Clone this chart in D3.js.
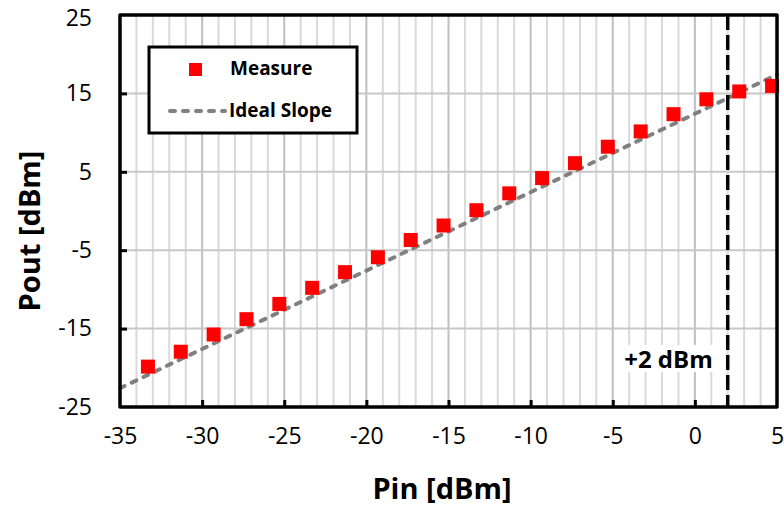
<!DOCTYPE html>
<html>
<head>
<meta charset="utf-8">
<script src="https://cdn.jsdelivr.net/npm/d3@7"></script>
<style>
  body { margin: 0; background: #fff; }
  text { font-family: "Open Sans", Lato, sans-serif; fill: #000; }
</style>
</head>
<body>
<div id="chart"></div>
<script>
// measured data
var pin = [-33.3, -31.3, -29.3, -27.3, -25.3, -23.3, -21.3, -19.3, -17.3, -15.3,
           -13.3, -11.3, -9.3, -7.3, -5.3, -3.3, -1.3, 0.7, 2.7, 4.7];
var pout = [-19.85, -17.95, -15.75, -13.8, -11.85, -9.8, -7.8, -5.9, -3.7, -1.85,
            0.1, 2.25, 4.2, 6.1, 8.2, 10.15, 12.35, 14.25, 15.25, 15.95];

// ideal slope line (1 dB/dB)
var idealX = [-35, 5];
var idealY = [-22.6, 17.4];

var xTicks = [-35, -30, -25, -20, -15, -10, -5, 0, 5];
var yTicks = [-25, -15, -5, 5, 15, 25];
var markerX = 2;
var markerLabel = "+2 dBm";

var W = 784, H = 507;
var margin = { top: 15, right: 7, bottom: 100, left: 120 },
  width = W - margin.left - margin.right,
  height = H - margin.top - margin.bottom;

var svg = d3.select("#chart").append("svg")
  .attr("width", W).attr("height", H);
var g = svg.append("g")
  .attr("transform", "translate(" + margin.left + "," + margin.top + ")");

var x = d3.scaleLinear().domain([-35, 5]).range([0, width]);
var y = d3.scaleLinear().domain([-25, 25]).range([height, 0]);

// minor vertical grid (every 1 dB)
g.append("g").selectAll("line")
  .data(d3.range(-34, 5).filter(d => d % 5 != 0))
  .enter().append("line")
  .attr("x1", d => x(d)).attr("x2", d => x(d))
  .attr("y1", 0).attr("y2", height)
  .attr("stroke", "#d9d9d9").attr("stroke-width", 2);

// major vertical grid
g.append("g").selectAll("line")
  .data(xTicks.slice(1, -1))
  .enter().append("line")
  .attr("x1", d => x(d)).attr("x2", d => x(d))
  .attr("y1", 0).attr("y2", height)
  .attr("stroke", "#bfbfbf").attr("stroke-width", 2);

// horizontal grid
g.append("g").selectAll("line")
  .data(yTicks.slice(1, -1))
  .enter().append("line")
  .attr("x1", 0).attr("x2", width)
  .attr("y1", d => y(d)).attr("y2", d => y(d))
  .attr("stroke", "#c8c8c8").attr("stroke-width", 2);

// +2 dBm label with white box
var lbl = g.append("text")
  .attr("x", x(markerX) - 15).attr("y", y(-19.2))
  .attr("text-anchor", "end")
  .attr("dominant-baseline", "middle")
  .style("font-weight", "bold").style("font-size", "24px")
  .text(markerLabel);
var bb = lbl.node().getBBox();
g.insert("rect", "text")
  .attr("x", bb.x - 2).attr("y", bb.y + 3)
  .attr("width", bb.width + 4).attr("height", bb.height - 6)
  .attr("fill", "#fff");

// ideal slope
var line = d3.line().x(d => x(d[0])).y(d => y(d[1]));
g.append("path")
  .datum(d3.zip(idealX, idealY))
  .attr("d", line)
  .attr("fill", "none")
  .attr("stroke", "#808080").attr("stroke-width", 4)
  .attr("stroke-dasharray", "5,8").attr("stroke-linecap", "round");

// vertical marker line at +2 dBm
g.append("line")
  .attr("x1", x(markerX)).attr("x2", x(markerX))
  .attr("y1", 0).attr("y2", height)
  .attr("stroke", "#000").attr("stroke-width", 3.5)
  .attr("stroke-dasharray", "15,5");

// measured points
var ms = 14;
g.append("g").selectAll("rect")
  .data(d3.zip(pin, pout))
  .enter().append("rect")
  .attr("x", d => x(d[0]) - ms / 2)
  .attr("y", d => y(d[1]) - ms / 2)
  .attr("width", ms).attr("height", ms)
  .attr("fill", "#ff0000");

// frame
g.append("rect")
  .attr("x", 0).attr("y", 0).attr("width", width).attr("height", height)
  .attr("fill", "none").attr("stroke", "#000").attr("stroke-width", 3.5)
  .attr("stroke-linejoin", "round");

// axes with inward ticks, plain hyphen minus
var fmt = d => String(d);
var xAxis = g.append("g")
  .attr("transform", "translate(0," + height + ")")
  .call(d3.axisBottom(x).tickValues(xTicks).tickFormat(fmt)
    .tickSizeInner(-7).tickSizeOuter(0).tickPadding(21));
var yAxis = g.append("g")
  .call(d3.axisLeft(y).tickValues(yTicks).tickFormat(fmt)
    .tickSizeInner(-7).tickSizeOuter(0).tickPadding(28));
[xAxis, yAxis].forEach(a => {
  a.select(".domain").remove();
  a.selectAll(".tick line").attr("stroke", "#000").attr("stroke-width", 3);
  a.selectAll(".tick text").style("font-size", "23px").style("font-family", "'Open Sans', sans-serif");
});
xAxis.selectAll(".tick").filter(d => d == -35 || d == 5).select("line").remove();
yAxis.selectAll(".tick").filter(d => d == -25 || d == 25).select("line").remove();
xAxis.selectAll(".tick text").attr("dy", "0.71em");
// top label sits a little lower so it stays inside the page
yAxis.selectAll(".tick").filter(d => d == 25).select("text").attr("y", 3);

// axis titles
svg.append("text")
  .attr("x", 442).attr("y", 499)
  .attr("text-anchor", "middle")
  .style("font-weight", "bold").style("font-size", "29px")
  .text("Pin [dBm]");
svg.append("text")
  .attr("transform", "translate(40,231) rotate(-90)")
  .attr("text-anchor", "middle")
  .style("font-weight", "bold").style("font-size", "29px")
  .text("Pout [dBm]");

// legend
var leg = svg.append("g").attr("transform", "translate(149,47)");
leg.append("rect")
  .attr("width", 208).attr("height", 86)
  .attr("fill", "#fff").attr("stroke", "#000").attr("stroke-width", 3);
leg.append("rect")
  .attr("x", 40).attr("y", 16).attr("width", 13).attr("height", 13)
  .attr("fill", "#ff0000");
leg.append("text")
  .attr("x", 81).attr("y", 23).attr("dominant-baseline", "middle")
  .style("font-weight", "bold").style("font-size", "19px")
  .text("Measure");
leg.append("line")
  .attr("x1", 21).attr("x2", 76).attr("y1", 64).attr("y2", 64)
  .attr("stroke", "#808080").attr("stroke-width", 4)
  .attr("stroke-dasharray", "5,8").attr("stroke-linecap", "round");
leg.append("text")
  .attr("x", 80).attr("y", 65).attr("dominant-baseline", "middle")
  .style("font-weight", "bold").style("font-size", "19px")
  .text("Ideal Slope");
</script>
</body>
</html>
